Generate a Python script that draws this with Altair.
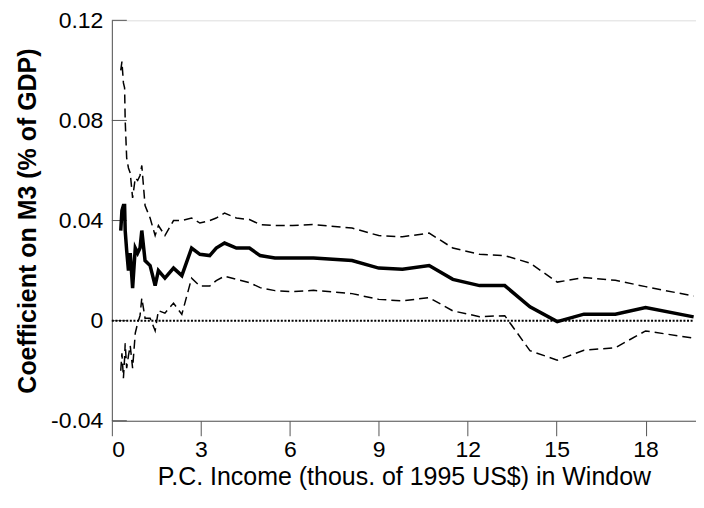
import altair as alt
import pandas as pd

x_vals = [0.30, 0.34, 0.39, 0.43, 0.45, 0.50, 0.56, 0.62, 0.70, 0.79, 0.87, 0.95,
          1.01, 1.12, 1.29, 1.46, 1.57, 1.79, 2.08, 2.36, 2.69, 2.97, 3.30, 3.52,
          3.80, 4.20, 4.64, 5.00, 5.50, 6.10, 6.80, 8.10, 9.00, 9.80, 10.70, 11.50,
          12.40, 13.25, 14.10, 15.02, 15.92, 16.98, 18.00, 19.62]

coef = [0.036, 0.044, 0.046, 0.046, 0.036, 0.028, 0.020, 0.027, 0.013, 0.029, 0.027, 0.029,
        0.036, 0.024, 0.022, 0.014, 0.020, 0.017, 0.021, 0.018, 0.029, 0.0265, 0.026, 0.029,
        0.031, 0.029, 0.029, 0.026, 0.025, 0.025, 0.025, 0.024, 0.021, 0.0205, 0.022, 0.0165,
        0.014, 0.014, 0.0055, -0.0004, 0.0026, 0.0026, 0.0052, 0.0015]

upper = [0.100, 0.1035, 0.095, 0.093, 0.080, 0.065, 0.061, 0.059, 0.049, 0.057, 0.056, 0.058,
         0.062, 0.046, 0.041, 0.034, 0.038, 0.034, 0.040, 0.040, 0.041, 0.039, 0.040, 0.041,
         0.043, 0.041, 0.0404, 0.0384, 0.038, 0.038, 0.0384, 0.037, 0.034, 0.0335, 0.035, 0.029,
         0.0265, 0.026, 0.023, 0.0154, 0.0172, 0.0161, 0.0136, 0.0098]

lower = [-0.020, -0.013, -0.023, -0.015, -0.009, -0.019, -0.014, -0.010, -0.019, -0.005, -0.001, 0.002,
         0.009, 0.001, 0.001, -0.004, 0.004, 0.003, 0.007, 0.0025, 0.017, 0.0138, 0.0138, 0.016,
         0.0178, 0.0165, 0.0152, 0.0132, 0.012, 0.0116, 0.0121, 0.0108, 0.0085, 0.0079, 0.0092, 0.0039,
         0.0016, 0.002, -0.012, -0.0158, -0.0118, -0.0108, -0.0041, -0.007]

x_ticks = [0, 3, 6, 9, 12, 15, 18]
y_ticks = [-0.04, 0, 0.04, 0.08, 0.12]
zero_x = [0, 19.62]

df = pd.DataFrame({"x": x_vals, "coef": coef, "upper": upper, "lower": lower})
df_zero = pd.DataFrame({"x": zero_x, "y": [0, 0]})
df_yt = pd.DataFrame({"y": y_ticks})

FONT = "Liberation Sans"
AX = "#555555"

xscale = alt.Scale(domain=[0, 19.7], nice=False, zero=False)
yscale = alt.Scale(domain=[-0.04, 0.12], nice=False, zero=False)

xaxis = alt.Axis(values=x_ticks, title="P.C. Income (thous. of 1995 US$) in Window",
                 grid=False, tickSize=15, tickColor=AX, domainColor=AX, labelFontSize=23,
                 labelFont=FONT, labelColor="black", labelPadding=3, titleFont=FONT,
                 titleFontSize=25, titleFontWeight="normal", titleColor="black", titlePadding=3)
yaxis = alt.Axis(values=y_ticks, title="Coefficient on M3 (% of GDP)", grid=False, ticks=False,
                 domainColor=AX, labelFontSize=23, labelFont=FONT, labelColor="black",
                 labelPadding=9,
                 labelExpr="datum.value == 0 ? '0' : (datum.value < 0 ? '-' + format(-datum.value, '.2f') : format(datum.value, '.2f'))",
                 titleFont=FONT, titleFontSize=25, titleFontWeight="bold", titleColor="black",
                 titlePadding=10)

base = alt.Chart(df)
x_enc = alt.X("x:Q", scale=xscale, axis=xaxis)

coef_line = base.mark_line(color="black", strokeWidth=3.5).encode(
    x=x_enc, y=alt.Y("coef:Q", scale=yscale, axis=yaxis))
upper_line = base.mark_line(color="black", strokeWidth=1.5, strokeDash=[9, 5]).encode(
    x="x:Q", y="upper:Q")
lower_line = base.mark_line(color="black", strokeWidth=1.5, strokeDash=[9, 5]).encode(
    x="x:Q", y="lower:Q")
zero_line = alt.Chart(df_zero).mark_line(color="black", strokeWidth=2, strokeDash=[2, 1.6]).encode(
    x="x:Q", y="y:Q")
yticks = alt.Chart(df_yt).mark_rule(color=AX, strokeWidth=1).encode(
    y="y:Q", x=alt.value(0), x2=alt.value(15))

chart = alt.layer(yticks, zero_line, upper_line, lower_line, coef_line).properties(
    width=585, height=401,
    autosize=alt.AutoSizeParams(type="none"),
    padding={"left": 104, "top": 12, "right": 0, "bottom": 74},
).configure_view(stroke=None).configure(background="white")

chart.save("out.html", embed_options={"renderer": "svg", "actions": False})
